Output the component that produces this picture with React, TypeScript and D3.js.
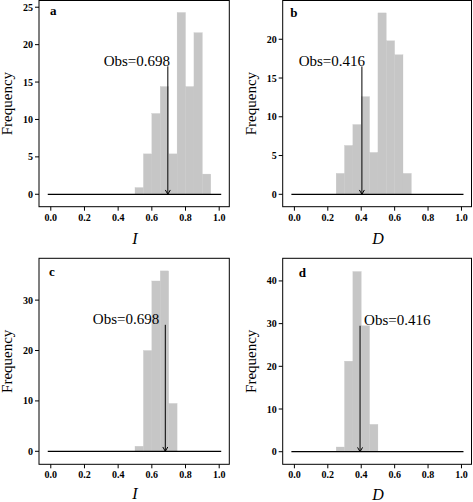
import React from "react";
import * as d3 from "d3";

// ---- data ----
const binWidth = 0.05;
const aBinStart = 0.5;
const aFreq = [0.9, 5.4, 10.8, 14.4, 5.4, 24.3, 14.4, 21.6, 2.7];
const bBinStart = 0.25;
const bFreq = [2.7, 6.3, 9.0, 12.6, 5.4, 23.4, 19.8, 18.0, 2.7];
const cBinStart = 0.5;
const cFreq = [1.0, 20.0, 33.8, 35.8, 9.5];
const dBinStart = 0.25;
const dFreq = [1.1, 21.2, 42.2, 29.5, 6.4];

const xTicks = [0, 0.2, 0.4, 0.6, 0.8, 1.0];
const abYTicks = [0, 5, 10, 15, 20, 25];
const bYTicks = [0, 5, 10, 15, 20];
const cYTicks = [0, 10, 20, 30];
const dYTicks = [0, 10, 20, 30, 40];

const obsLabels = ["Obs=0.698", "Obs=0.416", "Obs=0.698", "Obs=0.416"];
const arrowXs = [0.695, 0.404, 0.68, 0.393];
const arrowTops = [17.1, 16.5, 25.1, 29.5];
const panelLetters = ["a", "b", "c", "d"];
const xTitles = ["I", "D", "I", "D"];

const SERIF = "'Liberation Serif', 'Times New Roman', serif";

type Panel = {
  letter: string;
  start: number;
  freq: number[];
  yTicks: number[];
  yDomain: [number, number];
  box: { l: number; t: number; r: number; b: number };
  label: string;
  arrowX: number;
  arrowTop: number;
  textX: number;
  textY: number;
  anchor: "start" | "end";
  letterPos: [number, number];
  ylabX: number;
  xTitle: string;
  xTitleY: number;
};

const panels: Panel[] = [
  {
    letter: panelLetters[0], start: aBinStart, freq: aFreq, yTicks: abYTicks,
    yDomain: [-1.66, 25.9], box: { l: 39, t: 0.5, r: 229.3, b: 206.7 },
    label: obsLabels[0], arrowX: arrowXs[0], arrowTop: arrowTops[0],
    textX: 0.708, textY: 17.2, anchor: "end", letterPos: [11, 14.5], ylabX: 11.5,
    xTitle: xTitles[0], xTitleY: 244,
  },
  {
    letter: panelLetters[1], start: bBinStart, freq: bFreq, yTicks: bYTicks,
    yDomain: [-1.6, 25.0], box: { l: 282.7, t: 0.5, r: 471.5, b: 206.7 },
    label: obsLabels[1], arrowX: arrowXs[1], arrowTop: arrowTops[1],
    textX: 0.423, textY: 16.6, anchor: "end", letterPos: [7.5, 16.5], ylabX: 256,
    xTitle: xTitles[1], xTitleY: 244,
  },
  {
    letter: panelLetters[2], start: cBinStart, freq: cFreq, yTicks: cYTicks,
    yDomain: [-2.58, 38.3], box: { l: 39, t: 258.3, r: 229.3, b: 464.3 },
    label: obsLabels[2], arrowX: arrowXs[2], arrowTop: arrowTops[2],
    textX: 0.644, textY: 25.3, anchor: "end", letterPos: [10, 17.7], ylabX: 11.5,
    xTitle: xTitles[2], xTitleY: 499,
  },
  {
    letter: panelLetters[3], start: dBinStart, freq: dFreq, yTicks: dYTicks,
    yDomain: [-2.95, 45.3], box: { l: 282.7, t: 258.3, r: 471.5, b: 464.3 },
    label: obsLabels[3], arrowX: arrowXs[3], arrowTop: arrowTops[3],
    textX: 0.417, textY: 29.7, anchor: "start", letterPos: [16, 18.7], ylabX: 256,
    xTitle: xTitles[3], xTitleY: 500,
  },
];

const xDomain: [number, number] = [-0.07, 1.06];
const zeroLine: [number, number] = [-0.018, 1.012];

function HistPanel({ p }: { p: Panel }) {
  const { box } = p;
  const x = d3.scaleLinear().domain(xDomain).range([box.l, box.r]);
  const y = d3.scaleLinear().domain(p.yDomain).range([box.b, box.t]);
  const bins = p.freq.map((f, i) => ({
    x0: p.start + i * binWidth,
    x1: p.start + (i + 1) * binWidth,
    f,
  }));
  const ax = x(p.arrowX);
  const ay0 = y(p.arrowTop);
  const ay1 = y(0);
  const headLen = 5;
  const ang = Math.PI / 6;
  return (
    <g>
      {bins.map((b, i) => (
        <rect
          key={i}
          x={x(b.x0)}
          y={y(b.f)}
          width={x(b.x1) - x(b.x0)}
          height={y(0) - y(b.f)}
          fill="#c6c6c6"
          stroke="#c6c6c6"
          strokeWidth={0.3}
        />
      ))}
      <line x1={x(zeroLine[0])} x2={x(zeroLine[1])} y1={y(0)} y2={y(0)} stroke="#000" strokeWidth={1.3} />
      <line x1={ax} x2={ax} y1={ay0} y2={ay1} stroke="#000" strokeWidth={1} />
      <path
        d={`M${ax - headLen * Math.sin(ang)},${ay1 - headLen * Math.cos(ang)} L${ax},${ay1} L${ax + headLen * Math.sin(ang)},${ay1 - headLen * Math.cos(ang)}`}
        fill="none"
        stroke="#000"
        strokeWidth={1}
      />
      <text
        x={x(p.textX)}
        y={y(p.textY)}
        textAnchor={p.anchor}
        fontFamily={SERIF}
        fontSize={15}
        fill="#000"
      >
        {p.label}
      </text>
      <rect x={box.l} y={box.t} width={box.r - box.l} height={box.b - box.t} fill="none" stroke="#000" strokeWidth={1} />
      <text
        x={box.l + p.letterPos[0]}
        y={box.t + p.letterPos[1]}
        fontFamily={SERIF}
        fontWeight="bold"
        fontSize={13}
      >
        {p.letter}
      </text>
      {p.yTicks.map((t) => (
        <g key={t}>
          <line x1={box.l - 4} x2={box.l} y1={y(t)} y2={y(t)} stroke="#000" strokeWidth={1} />
          <text
            x={box.l - 6}
            y={y(t)}
            dy="0.35em"
            textAnchor="end"
            fontFamily={SERIF}
            fontWeight="bold"
            fontSize={10}
          >
            {t}
          </text>
        </g>
      ))}
      {xTicks.map((t) => (
        <g key={t}>
          <line x1={x(t)} x2={x(t)} y1={box.b} y2={box.b + 4} stroke="#000" strokeWidth={1} />
          <text
            x={x(t)}
            y={box.b + 14}
            textAnchor="middle"
            fontFamily={SERIF}
            fontWeight="bold"
            fontSize={10}
          >
            {t.toFixed(1)}
          </text>
        </g>
      ))}
      <text
        transform={`translate(${p.ylabX},${(box.t + box.b) / 2}) rotate(-90)`}
        textAnchor="middle"
        fontFamily={SERIF}
        fontSize={15}
      >
        Frequency
      </text>
      <text
        x={x(0.5)}
        y={p.xTitleY}
        textAnchor="middle"
        fontFamily={SERIF}
        fontStyle="italic"
        fontSize={16}
      >
        {p.xTitle}
      </text>
    </g>
  );
}

export default function App() {
  return (
    <div style={{ position: "absolute", left: 0, top: 0 }}>
      <svg width={473} height={502} style={{ display: "block", background: "#fff" }}>
        {panels.map((p) => (
          <HistPanel key={p.letter} p={p} />
        ))}
      </svg>
    </div>
  );
}
